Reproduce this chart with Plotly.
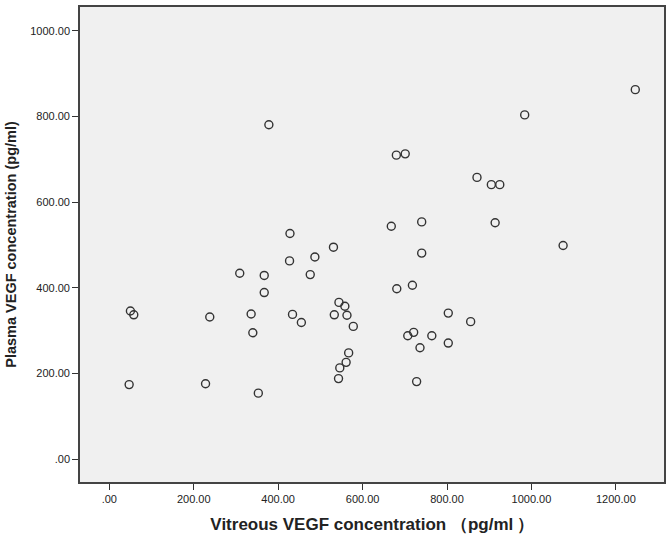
import plotly.graph_objects as go

vitreous = [378, 428, 427, 487, 531,
            1246, 984, 680, 701, 871, 905, 925, 668, 740, 914, 1075, 740,
            309, 367, 476, 367, 50, 58, 238, 336, 434, 455, 340, 47, 228, 353,
            544, 558, 533, 563, 578, 567, 561, 546, 543, 681, 718, 803, 856, 707, 721, 764, 803, 736, 728]
plasma = [781, 527, 463, 472, 495,
          863, 804, 710, 713, 658, 641, 641, 544, 554, 552, 499, 481,
          434, 429, 431, 389, 346, 337, 332, 339, 338, 319, 295, 174, 176, 154,
          366, 357, 337, 336, 310, 248, 226, 213, 188, 398, 406, 341, 321, 288, 296, 288, 271, 260, 181]

x_ticks = [0, 200, 400, 600, 800, 1000, 1200]
x_labels = [".00", "200.00", "400.00", "600.00", "800.00", "1000.00", "1200.00"]
y_ticks = [0, 200, 400, 600, 800, 1000]
y_labels = [".00", "200.00", "400.00", "600.00", "800.00", "1000.00"]

fig = go.Figure(go.Scatter(
    x=vitreous, y=plasma, mode="markers",
    marker=dict(symbol="circle-open", size=8, color="#333333", line=dict(width=1.4, color="#333333")),
    hoverinfo="x+y"
))

fig.update_layout(
    width=672, height=539,
    margin=dict(l=80, r=8, t=5, b=57),
    paper_bgcolor="white", plot_bgcolor="#f0f0f0",
    showlegend=False,
    font=dict(family="Liberation Sans, Arial, sans-serif", size=11, color="#222222"),
)
fig.update_xaxes(
    range=[-69.4, 1314], tickvals=x_ticks, ticktext=x_labels,
    showgrid=False, zeroline=False, showline=True, mirror=True,
    linecolor="#444444", linewidth=1.6, ticks="outside", ticklen=6, tickcolor="#333333",
    title=dict(text="<b>Vitreous VEGF concentration （pg/ml\u2009）</b>", font=dict(size=17, color="#222222"), standoff=14),
)
fig.update_yaxes(
    range=[-53.5, 1056], tickvals=y_ticks, ticktext=y_labels,
    showgrid=False, zeroline=False, showline=True, mirror=True,
    linecolor="#444444", linewidth=1.6, ticks="outside", ticklen=6, tickcolor="#333333",
    title=dict(text="<b>Plasma VEGF concentration (pg/ml)</b>", font=dict(size=14.5, color="#222222"), standoff=10),
)

fig.write_html("out.html", config={"displayModeBar": False},
               post_script="document.body.style.margin='0';document.body.style.padding='0';")
